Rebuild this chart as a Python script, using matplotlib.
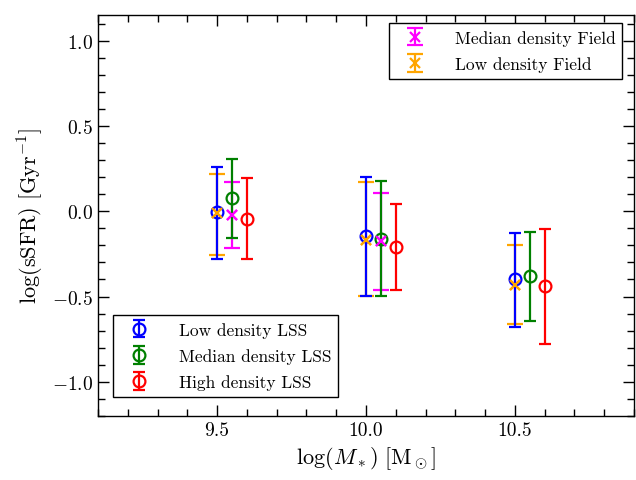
import matplotlib
matplotlib.use("Agg")
import matplotlib.pyplot as plt
import numpy as np
from matplotlib.ticker import MultipleLocator

plt.rcParams['font.family'] = 'serif'
plt.rcParams['font.serif'] = ['cmr10', 'DejaVu Serif']
plt.rcParams['mathtext.fontset'] = 'cm'
plt.rcParams['axes.formatter.use_mathtext'] = True

# stellar mass bins
mass = [9.5, 10.0, 10.5]

# LSS samples: centre, lower end, upper end
low_lss_c = [-0.005, -0.144, -0.398]
low_lss_lo = [-0.277, -0.496, -0.676]
low_lss_hi = [0.26, 0.20, -0.128]

med_lss_c = [0.075, -0.161, -0.378]
med_lss_lo = [-0.155, -0.496, -0.642]
med_lss_hi = [0.306, 0.175, -0.122]

high_lss_c = [-0.044, -0.21, -0.437]
high_lss_lo = [-0.277, -0.46, -0.779]
high_lss_hi = [0.195, 0.042, -0.104]

# Field samples
med_field_c = [-0.02, -0.175]
med_field_lo = [-0.216, -0.464]
med_field_hi = [0.171, 0.107]

low_field_c = [-0.012, -0.168, -0.43]
low_field_lo = [-0.255, -0.496, -0.66]
low_field_hi = [0.218, 0.171, -0.195]

fig = plt.figure(figsize=(6.36, 4.81), dpi=100)
W, H = 636, 481
ax = fig.add_axes([98 / W, (H - 417) / H, (634 - 98) / W, (417 - 16) / H])


def yerr(c, lo, hi):
    c = np.array(c); lo = np.array(lo); hi = np.array(hi)
    return np.vstack([c - lo, hi - c])


m = np.array(mass)
kwf = dict(elinewidth=1.6, capsize=6, capthick=1.6, zorder=2)
h5 = ax.errorbar(m, low_field_c, yerr=yerr(low_field_c, low_field_lo, low_field_hi), fmt='x', color='orange',
                 ms=7, mew=1.6, **kwf, label='Low density Field')
h4 = ax.errorbar(m[:2] + 0.05, med_field_c, yerr=yerr(med_field_c, med_field_lo, med_field_hi), fmt='x',
                 color='magenta', ms=7, mew=1.6, **kwf, label='Median density Field')

kw = dict(elinewidth=1.6, capsize=4, capthick=1.6, zorder=3)
h1 = ax.errorbar(m, low_lss_c, yerr=yerr(low_lss_c, low_lss_lo, low_lss_hi), fmt='o', color='blue',
                 mfc='none', mec='blue', ms=8.5, mew=1.6, **kw, label='Low density LSS')
h2 = ax.errorbar(m + 0.05, med_lss_c, yerr=yerr(med_lss_c, med_lss_lo, med_lss_hi), fmt='o', color='green',
                 mfc='none', mec='green', ms=8.5, mew=1.6, **kw, label='Median density LSS')
h3 = ax.errorbar(m + 0.1, high_lss_c, yerr=yerr(high_lss_c, high_lss_lo, high_lss_hi), fmt='o', color='red',
                 mfc='none', mec='red', ms=8.5, mew=1.6, **kw, label='High density LSS')
# field markers on top of the hollow circles
ax.plot(m, low_field_c, 'x', color='orange', ms=7, mew=1.6, zorder=4)
ax.plot(m[:2] + 0.05, med_field_c, 'x', color='magenta', ms=7, mew=1.6, zorder=4)

ax.set_xlim(9.1, 10.9)
ax.set_ylim(-1.2, 1.15)
ax.xaxis.set_major_locator(MultipleLocator(0.5))
ax.xaxis.set_minor_locator(MultipleLocator(0.1))
ax.yaxis.set_major_locator(MultipleLocator(0.5))
ax.yaxis.set_minor_locator(MultipleLocator(0.1))
ax.tick_params(which='both', direction='in', top=True, right=True, labelsize=14)
ax.tick_params(which='major', length=8, width=1)
ax.tick_params(which='minor', length=5, width=1)
ax.set_xticks(mass)
ax.set_xticklabels(['9.5', '10.0', '10.5'])
for s in ax.spines.values():
    s.set_linewidth(1.0)

ax.set_xlabel(r'$\log(M_*)\ [\mathrm{M}_\odot]$', fontsize=16)
ax.set_ylabel(r'$\log(\mathrm{sSFR})\ [\mathrm{Gyr}^{-1}]$', fontsize=16)

legkw = dict(fontsize=12.5, fancybox=False, edgecolor='black', framealpha=1, borderaxespad=0,
             labelspacing=0.6, handletextpad=1.2, handlelength=2.2)
leg1 = ax.legend(handles=[h1, h2, h3], loc='lower left', bbox_to_anchor=(0.028, 0.047), **legkw)
leg1.get_frame().set_linewidth(1.0)
ax.add_artist(leg1)
leg2 = ax.legend(handles=[h4, h5], loc='upper right', bbox_to_anchor=(0.978, 0.98), **legkw)
leg2.get_frame().set_linewidth(1.0)

fig.savefig('out.png', dpi=100)
